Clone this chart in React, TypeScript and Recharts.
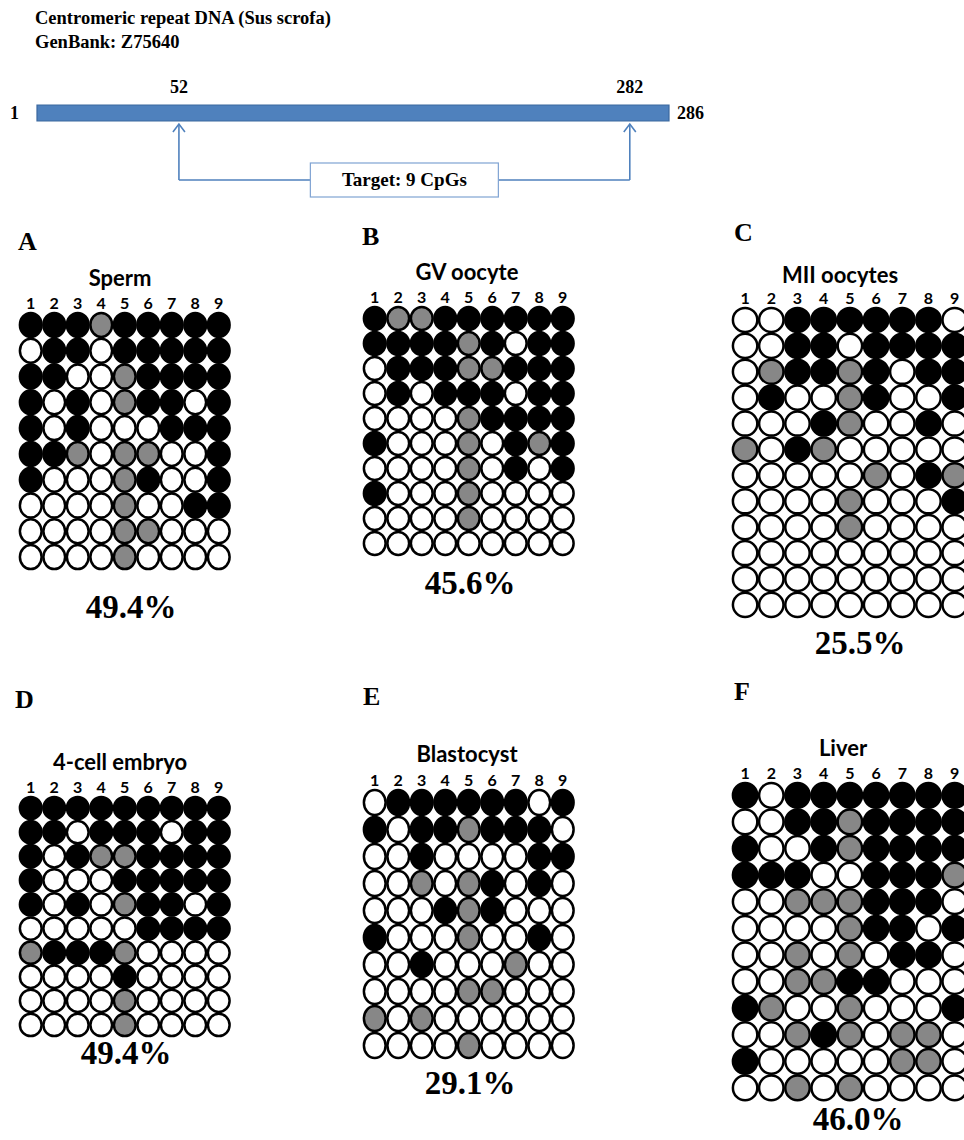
import React from "react";
import {
  ComposedChart,
  ScatterChart,
  Scatter,
  XAxis,
  YAxis,
  ReferenceArea,
  ReferenceLine,
  ReferenceDot,
  Label,
} from "recharts";

// 1 = methylated (black), 0 = unmethylated (white), 2 = not determined (grey)
const cpgSites = [1, 2, 3, 4, 5, 6, 7, 8, 9];

const seqStart = 1;
const seqEnd = 286;
const targetStart = 52;
const targetEnd = 282;

const spermCalls = [
  [1, 1, 1, 2, 1, 1, 1, 1, 1],
  [0, 1, 1, 0, 1, 1, 1, 1, 1],
  [1, 1, 0, 0, 2, 1, 1, 1, 1],
  [1, 0, 1, 0, 2, 1, 1, 0, 1],
  [1, 0, 1, 0, 0, 0, 1, 1, 1],
  [1, 1, 2, 0, 2, 2, 0, 0, 1],
  [1, 0, 0, 0, 2, 1, 0, 0, 1],
  [0, 0, 0, 0, 2, 0, 0, 1, 1],
  [0, 0, 0, 0, 2, 2, 0, 0, 0],
  [0, 0, 0, 0, 2, 0, 0, 0, 0],
];

const gvCalls = [
  [1, 2, 2, 1, 1, 1, 1, 1, 1],
  [1, 1, 1, 1, 2, 1, 0, 1, 1],
  [0, 1, 1, 1, 2, 2, 1, 1, 1],
  [0, 1, 0, 1, 1, 1, 0, 1, 1],
  [0, 0, 0, 0, 2, 1, 1, 1, 1],
  [1, 0, 0, 0, 2, 0, 1, 2, 1],
  [0, 0, 0, 0, 2, 0, 1, 0, 1],
  [1, 0, 0, 0, 2, 0, 0, 0, 0],
  [0, 0, 0, 0, 2, 0, 0, 0, 0],
  [0, 0, 0, 0, 0, 0, 0, 0, 0],
];

const miiCalls = [
  [0, 0, 1, 1, 1, 1, 1, 1, 0],
  [0, 0, 1, 1, 0, 1, 1, 1, 1],
  [0, 2, 1, 1, 2, 1, 0, 1, 1],
  [0, 1, 0, 0, 2, 1, 0, 0, 1],
  [0, 0, 0, 1, 2, 0, 0, 1, 0],
  [2, 0, 1, 2, 0, 0, 0, 0, 0],
  [0, 0, 0, 0, 0, 2, 0, 1, 2],
  [0, 0, 0, 0, 2, 0, 0, 0, 1],
  [0, 0, 0, 0, 2, 0, 0, 0, 0],
  [0, 0, 0, 0, 0, 0, 0, 0, 0],
  [0, 0, 0, 0, 0, 0, 0, 0, 0],
  [0, 0, 0, 0, 0, 0, 0, 0, 0],
];

const fourCellCalls = [
  [1, 1, 1, 1, 1, 1, 1, 1, 1],
  [1, 1, 0, 1, 1, 1, 0, 1, 1],
  [1, 0, 1, 2, 2, 1, 1, 1, 1],
  [1, 0, 0, 0, 1, 1, 1, 1, 1],
  [1, 0, 1, 0, 2, 1, 1, 0, 1],
  [0, 0, 0, 0, 0, 1, 1, 1, 1],
  [2, 1, 1, 1, 2, 0, 0, 0, 0],
  [0, 0, 0, 0, 1, 0, 0, 0, 0],
  [0, 0, 0, 0, 2, 0, 0, 0, 0],
  [0, 0, 0, 0, 2, 0, 0, 0, 0],
];

const blastocystCalls = [
  [0, 1, 1, 1, 1, 1, 1, 0, 1],
  [1, 0, 1, 1, 2, 1, 1, 1, 0],
  [0, 0, 1, 0, 0, 0, 0, 1, 1],
  [0, 0, 2, 0, 2, 1, 0, 1, 0],
  [0, 0, 0, 1, 2, 1, 0, 0, 0],
  [1, 0, 0, 0, 2, 0, 0, 1, 0],
  [0, 0, 1, 0, 0, 0, 2, 0, 0],
  [0, 0, 0, 0, 2, 2, 0, 0, 0],
  [2, 0, 2, 0, 0, 0, 0, 0, 0],
  [0, 0, 0, 0, 2, 0, 0, 0, 0],
];

const liverCalls = [
  [1, 0, 1, 1, 1, 1, 1, 1, 1],
  [0, 0, 1, 1, 2, 1, 1, 1, 1],
  [1, 0, 0, 1, 2, 1, 1, 1, 1],
  [1, 1, 1, 0, 0, 1, 1, 1, 2],
  [0, 0, 2, 2, 2, 1, 1, 1, 0],
  [0, 0, 0, 0, 2, 1, 1, 0, 1],
  [0, 0, 2, 0, 2, 0, 1, 1, 0],
  [0, 0, 2, 2, 1, 1, 0, 0, 0],
  [1, 2, 0, 0, 2, 0, 0, 0, 1],
  [0, 0, 2, 1, 2, 0, 2, 2, 0],
  [1, 0, 0, 0, 0, 0, 2, 2, 0],
  [0, 0, 2, 0, 2, 0, 0, 0, 0],
];

const panelLetters = ["A", "B", "C", "D", "E", "F"];
const panelTitles = ["Sperm", "GV oocyte", "MII oocytes", "4-cell embryo", "Blastocyst", "Liver"];
const panelPercents = ["49.4%", "45.6%", "25.5%", "49.4%", "29.1%", "46.0%"];
const panelCalls = [spermCalls, gvCalls, miiCalls, fourCellCalls, blastocystCalls, liverCalls];

// page placement of each panel (first dot centre, dot spacing, text spots)
const layouts = [
  { cx: 31, cy: 325, sx: 23.5, sy: 25.8, letterX: 18, letterY: 242, titleX: 120, titleY: 278, pctX: 131, pctY: 607 },
  { cx: 375, cy: 318, sx: 23.5, sy: 25, letterX: 362, letterY: 237, titleX: 467, titleY: 272, pctX: 470, pctY: 583 },
  { cx: 745, cy: 320, sx: 26.2, sy: 25.9, letterX: 734, letterY: 233, titleX: 840, titleY: 275, pctX: 860, pctY: 643 },
  { cx: 31, cy: 808, sx: 23.5, sy: 24.1, letterX: 15, letterY: 700, titleX: 120, titleY: 762, pctX: 126, pctY: 1053 },
  { cx: 375, cy: 802, sx: 23.5, sy: 27, letterX: 363, letterY: 697, titleX: 467, titleY: 754, pctX: 470, pctY: 1083 },
  { cx: 745, cy: 795, sx: 26.2, sy: 26.6, letterX: 734, letterY: 692, titleX: 843, titleY: 748, pctX: 858, pctY: 1119 },
];

const serif = "'Liberation Serif', 'Times New Roman', serif";
const sans = "Lato, 'Open Sans', sans-serif";
const blue = "#4F81BD";

const callFill = (c: number) => (c === 1 ? "#000" : c === 2 ? "#878787" : "#fff");

function Panel({ idx }: { idx: number }) {
  const calls = panelCalls[idx];
  const lay = layouts[idx];
  const n = calls.length;
  const axisH = 24;
  const m = { top: 4, right: 16, bottom: 16, left: 16 };
  const plotW = lay.sx * 9;
  const plotH = lay.sy * n;
  const left = lay.cx - lay.sx / 2 - m.left;
  const top = lay.cy - lay.sy / 2 - axisH - m.top;
  const rx = lay.sx / 2 - 0.9;
  const ry = lay.sy / 2 - 0.9;
  const points = calls.flatMap((row, ri) => row.map((call, ci) => ({ site: cpgSites[ci], clone: ri + 1, call })));

  const dot = (p: any) => (
    <ellipse cx={p.cx} cy={p.cy} rx={rx} ry={ry} fill={callFill(p.payload.call)} stroke="#000" strokeWidth={2.5} />
  );

  return (
    <>
      <div style={{ position: "absolute", left: lay.letterX, top: lay.letterY - 15, fontFamily: serif, fontWeight: 700, fontSize: 26, lineHeight: "30px" }}>
        {panelLetters[idx]}
      </div>
      <div style={{ position: "absolute", left: lay.titleX - 100, width: 200, top: lay.titleY - 11, textAlign: "center", fontFamily: sans, fontWeight: 700, fontSize: 22, lineHeight: "22px" }}>
        {panelTitles[idx]}
      </div>
      <div style={{ position: "absolute", left, top }}>
        <ScatterChart width={plotW + m.left + m.right} height={plotH + axisH + m.top + m.bottom} margin={m}>
          <XAxis
            type="number"
            dataKey="site"
            orientation="top"
            domain={[0.5, 9.5]}
            ticks={cpgSites}
            interval={0}
            height={axisH}
            axisLine={false}
            tickLine={false}
            tickSize={0}
            tickMargin={3}
            tick={{ fontFamily: sans, fontWeight: 700, fontSize: 16, fill: "#000" }}
          />
          <YAxis type="number" dataKey="clone" domain={[0.5, n + 0.5]} reversed hide width={0} />
          <Scatter data={points} shape={dot} isAnimationActive={false} />
        </ScatterChart>
      </div>
      <div style={{ position: "absolute", left: lay.pctX - 100, width: 200, top: lay.pctY - 19, textAlign: "center", fontFamily: serif, fontWeight: 700, fontSize: 33, lineHeight: "38px" }}>
        {panelPercents[idx]}
      </div>
    </>
  );
}

const arrowHead = (p: any) => (
  <path d={`M${p.cx - 6},${p.cy + 8} L${p.cx},${p.cy} L${p.cx + 6},${p.cy + 8}`} fill="none" stroke={blue} strokeWidth={1.6} />
);

const targetBox = (p: any) => (
  <g>
    <rect x={p.cx - 94} y={p.cy - 17} width={188} height={34} fill="#fff" stroke="#7FA3D3" strokeWidth={1.2} />
    <text x={p.cx} y={p.cy + 6} textAnchor="middle" fontFamily={serif} fontWeight={700} fontSize={19} fill="#000">
      Target: 9 CpGs
    </text>
  </g>
);

function SequenceMap() {
  // arrow tips sit just under the bar (y is the vertical level inside the map)
  const sites = [
    { pos: targetStart, level: 29 },
    { pos: targetEnd, level: 29 },
  ];
  const labelStyle = { fontFamily: serif, fontWeight: 700, fontSize: 18, fill: "#000" };
  return (
    <div style={{ position: "absolute", left: 0, top: 60 }}>
      {/* schematic map, not to scale: domain chosen so the target sites sit under their labels */}
      <ComposedChart width={720} height={150} data={sites} margin={{ top: 10, right: 51, left: 37, bottom: 5 }}>
        <XAxis
          type="number"
          dataKey="pos"
          domain={[-20.4, 302]}
          ticks={[targetStart, targetEnd]}
          orientation="top"
          height={25}
          axisLine={false}
          tickLine={false}
          tickSize={0}
          tickMargin={2}
          tick={labelStyle}
        />
        <YAxis type="number" dataKey="level" domain={[0, 110]} reversed hide width={0} />
        <ReferenceArea y1={10} y2={26} fill={blue} fillOpacity={1} stroke="#3B689E" strokeWidth={1.2} ifOverflow="visible">
          <Label value={String(seqStart)} position="left" offset={18} style={labelStyle} />
          <Label value={String(seqEnd)} position="right" offset={8} style={labelStyle} />
        </ReferenceArea>
        <ReferenceLine segment={[{ x: targetStart, y: 85 }, { x: targetEnd, y: 85 }]} stroke={blue} strokeWidth={1.6} />
        <ReferenceLine segment={[{ x: targetStart, y: 29 }, { x: targetStart, y: 85 }]} stroke={blue} strokeWidth={1.6} />
        <ReferenceLine segment={[{ x: targetEnd, y: 29 }, { x: targetEnd, y: 85 }]} stroke={blue} strokeWidth={1.6} />
        <Scatter dataKey="level" shape={arrowHead} isAnimationActive={false} />
        <ReferenceDot x={(targetStart + targetEnd) / 2} y={85} r={10} shape={targetBox} />
      </ComposedChart>
    </div>
  );
}

export default function App() {
  return (
    <div style={{ position: "absolute", left: 0, top: 0, width: 964, height: 1140, background: "#fff", overflow: "hidden" }}>
      <div style={{ position: "absolute", left: 35, top: 6, fontFamily: serif, fontWeight: 700, fontSize: 18.5, lineHeight: "24px" }}>
        Centromeric repeat DNA (Sus scrofa)
        <br />
        GenBank: Z75640
      </div>
      <SequenceMap />
      {panelTitles.map((_, i) => (
        <Panel key={i} idx={i} />
      ))}
    </div>
  );
}
